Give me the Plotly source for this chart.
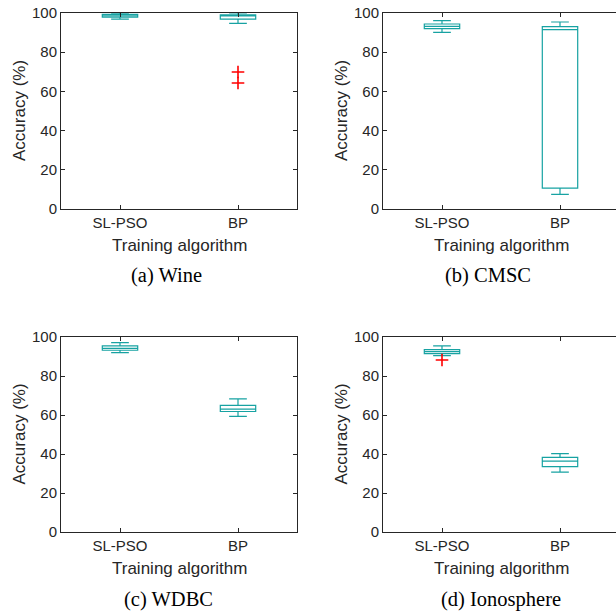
import plotly.graph_objects as go

W, H = 616, 612

# ---------------- data ----------------
categories = ["SL-PSO", "BP"]
panel_captions = ["(a) Wine", "(b) CMSC", "(c) WDBC", "(d) Ionosphere"]

# per panel: [SL-PSO, BP]
lowerfence = [[96.9, 94.7], [90.1, 7.5], [92.0, 59.3], [90.4, 30.7]]
q1 = [[97.9, 96.9], [92.0, 10.7], [93.2, 61.8], [91.5, 33.5]]
median = [[98.6, 98.5], [93.2, 91.5], [94.2, 63.0], [92.5, 36.3]]
q3 = [[99.3, 99.1], [94.4, 93.0], [95.4, 64.9], [93.5, 38.3]]
upperfence = [[100.0, 100.0], [96.1, 95.4], [97.1, 68.3], [95.5, 40.2]]

# outliers per panel
outlier_cat = [["BP", "BP"], [], [], ["SL-PSO"]]
outlier_val = [[69.9, 64.3], [], [], [88.2]]

y_ticks = [0, 20, 40, 60, 80, 100]

# ---------------- styling ----------------
TEAL = "#17A2A2"
AX = "#262626"
SANS = "Liberation Sans, Arial, sans-serif"
SERIF = "Liberation Serif, Times New Roman, serif"

# pixel geometry of panels in window pixels
x_dom_px = [(61, 297), (383, 616), (61, 297), (383, 616)]
y_dom_px = [(13, 209), (13, 209), (337, 532), (337, 532)]
caption_cx = [166, 488, 168, 501]


def px_x(v):
    return v / W


def px_y(v):
    return 1 - v / H


fig = go.Figure()

for i in range(4):
    xa = "x" if i == 0 else f"x{i+1}"
    ya = "y" if i == 0 else f"y{i+1}"
    for j, cat in enumerate(categories):
        fig.add_trace(go.Box(
            x=[cat], q1=[q1[i][j]], median=[median[i][j]], q3=[q3[i][j]],
            lowerfence=[lowerfence[i][j]], upperfence=[upperfence[i][j]],
            width=0.3, whiskerwidth=0.5,
            line=dict(color=TEAL, width=1.2),
            fillcolor="rgba(0,0,0,0)",
            boxpoints=False, showlegend=False, hoverinfo="skip",
            xaxis=xa, yaxis=ya,
        ))
    if outlier_val[i]:
        fig.add_trace(go.Scatter(
            x=outlier_cat[i], y=outlier_val[i], mode="markers",
            marker=dict(symbol="cross-thin", size=9,
                        line=dict(color="#FF0000", width=1.6)),
            showlegend=False, hoverinfo="skip", xaxis=xa, yaxis=ya,
        ))

layout = dict(
    width=W, height=H, margin=dict(l=0, r=0, t=0, b=0, pad=0),
    paper_bgcolor="white", plot_bgcolor="white",
    font=dict(family=SANS, color=AX, size=14),
)

for i in range(4):
    xk = "xaxis" if i == 0 else f"xaxis{i+1}"
    yk = "yaxis" if i == 0 else f"yaxis{i+1}"
    ya = "y" if i == 0 else f"y{i+1}"
    xa = "x" if i == 0 else f"x{i+1}"
    x0, x1 = x_dom_px[i]
    y0, y1 = y_dom_px[i]
    right = i in (1, 3)
    xr_end = -0.5 + (x1 - x0) / 118.0
    layout[xk] = dict(
        domain=[px_x(x0), px_x(x1)], anchor=ya, automargin=False,
        type="category", categoryorder="array", categoryarray=categories,
        range=[-0.5, xr_end],
        showline=True, linecolor=AX, linewidth=1, mirror="ticks",
        ticks="inside", ticklen=4, tickcolor=AX, tickwidth=1,
        showgrid=False, zeroline=False,
        tickfont=dict(size=15, color=AX, family=SANS),
        fixedrange=True,
    )
    layout[yk] = dict(
        domain=[px_y(y1), px_y(y0)], anchor=xa, automargin=False,
        range=[0, 100], tickvals=y_ticks,
        showline=True, linecolor=AX, linewidth=1,
        mirror=False if right else "ticks",
        ticks="inside", ticklen=4, tickcolor=AX, tickwidth=1,
        showgrid=False, zeroline=False,
        tickfont=dict(size=15, color=AX, family=SANS),
        fixedrange=True,
    )

fig.update_layout(**layout)

annotations = []
for i in range(4):
    x0, x1 = x_dom_px[i]
    y0, y1 = y_dom_px[i]
    cx = x0 + 118  # centre of the -0.5..1.5 span
    annotations.append(dict(
        text="Accuracy (%)", x=px_x(x0 - 42), y=px_y((y0 + y1) / 2),
        xref="paper", yref="paper", xanchor="center", yanchor="middle",
        textangle=-90, showarrow=False,
        font=dict(size=17, family=SANS, color=AX),
    ))
    annotations.append(dict(
        text="Training algorithm", x=px_x(cx), y=px_y(y1 + 36),
        xref="paper", yref="paper", xanchor="center", yanchor="middle",
        showarrow=False, font=dict(size=17, family=SANS, color=AX),
    ))
    annotations.append(dict(
        text=panel_captions[i], x=px_x(caption_cx[i]), y=px_y(y1 + 67),
        xref="paper", yref="paper", xanchor="center", yanchor="middle",
        showarrow=False, font=dict(size=20.5, family=SERIF, color="black"),
    ))
fig.update_layout(annotations=annotations)

fig.write_html(
    "out.html",
    config={"displayModeBar": False},
    post_script="document.body.style.margin='0';document.body.style.overflow='hidden';",
)
